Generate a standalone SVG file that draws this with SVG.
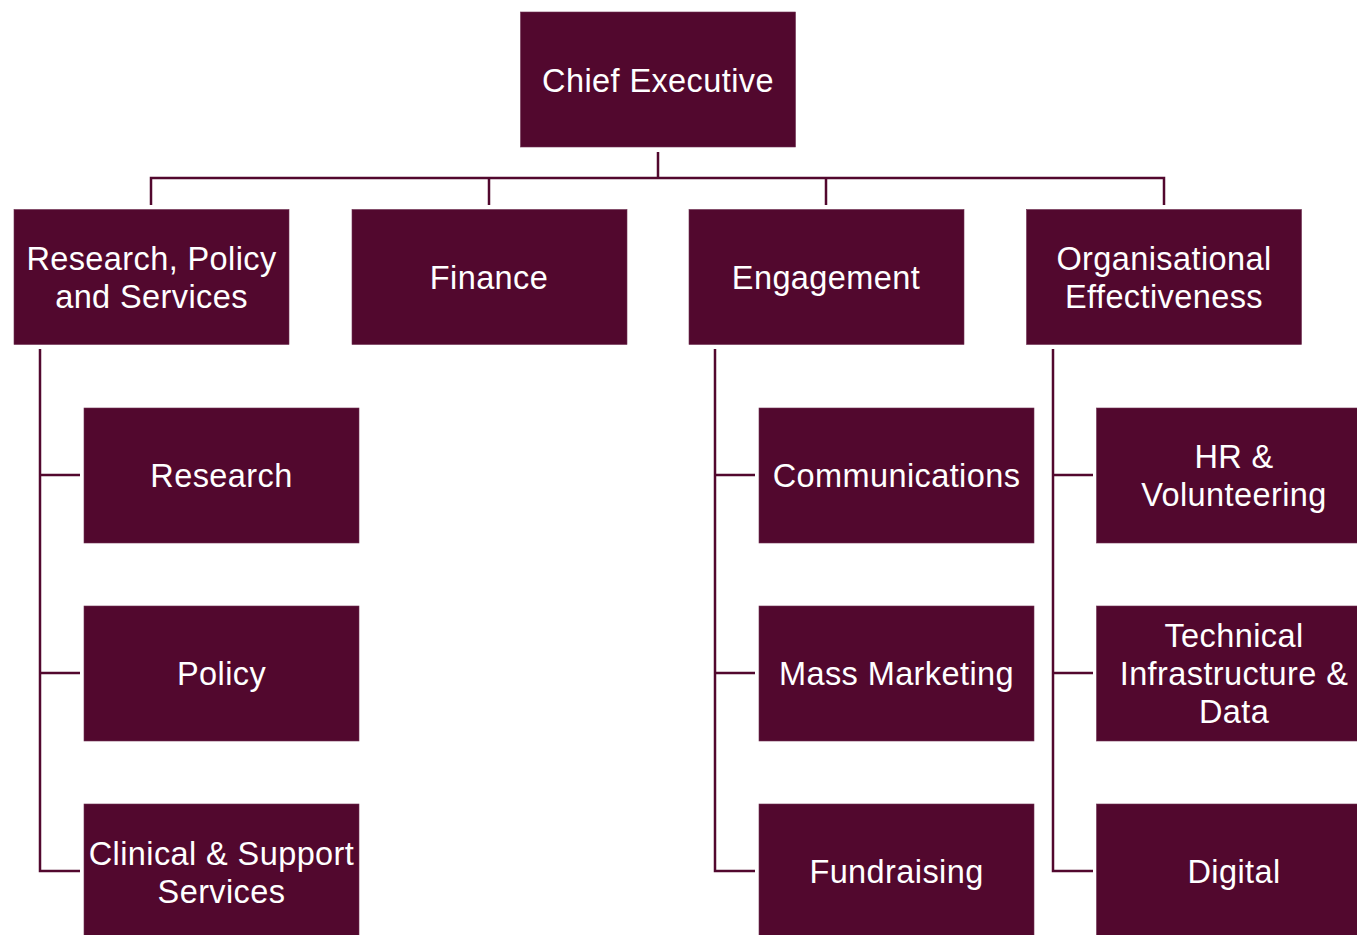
<svg xmlns="http://www.w3.org/2000/svg" width="1357" height="935" viewBox="0 0 1357 935">
<style>
.box{fill:#52082e;stroke:#6e3050;stroke-width:0.6}
.lbl{font-family:"Liberation Sans",Arial,sans-serif;font-size:32.5px;fill:#ffffff;text-anchor:middle;letter-spacing:0.4px}
.con{fill:none;stroke:#52082e;stroke-width:2.5}
</style>
<rect width="1357" height="935" fill="#ffffff"/>
<g id="connectors">
<path class="con" d="M658 152V178M151 205V178H1164V205M489 178V205M826 178V205"/>
<path class="con" d="M40 349V871H80M40 475H80M40 673H80"/>
<path class="con" d="M715 349V871H755M715 475H755M715 673H755"/>
<path class="con" d="M1053 349V871H1093M1053 475H1093M1053 673H1093"/>
</g>
<g id="chief"><rect class="box" x="520.5" y="12" width="275" height="135"/><text class="lbl" x="658" y="92">Chief Executive</text></g>
<g id="rps"><rect class="box" x="14" y="209.5" width="275" height="135"/><text class="lbl" x="151.5" y="270">Research, Policy</text><text class="lbl" x="151.5" y="308">and Services</text></g>
<g id="finance"><rect class="box" x="352" y="209.5" width="275" height="135"/><text class="lbl" x="489" y="289">Finance</text></g>
<g id="engagement"><rect class="box" x="689" y="209.5" width="275" height="135"/><text class="lbl" x="826" y="289">Engagement</text></g>
<g id="orgeff"><rect class="box" x="1026.5" y="209.5" width="275" height="135"/><text class="lbl" x="1164" y="270">Organisational</text><text class="lbl" x="1164" y="308">Effectiveness</text></g>
<g id="research"><rect class="box" x="84" y="408" width="275" height="135"/><text class="lbl" x="221.5" y="487">Research</text></g>
<g id="policy"><rect class="box" x="84" y="606" width="275" height="135"/><text class="lbl" x="221.5" y="685">Policy</text></g>
<g id="clinical"><rect class="box" x="84" y="804" width="275" height="135"/><text class="lbl" x="221.5" y="865">Clinical &amp; Support</text><text class="lbl" x="221.5" y="903">Services</text></g>
<g id="comms"><rect class="box" x="759" y="408" width="275" height="135"/><text class="lbl" x="896.5" y="487">Communications</text></g>
<g id="massmkt"><rect class="box" x="759" y="606" width="275" height="135"/><text class="lbl" x="896.5" y="685">Mass Marketing</text></g>
<g id="fundraising"><rect class="box" x="759" y="804" width="275" height="135"/><text class="lbl" x="896.5" y="883">Fundraising</text></g>
<g id="hr"><rect class="box" x="1096.5" y="408" width="275" height="135"/><text class="lbl" x="1234" y="468">HR &amp;</text><text class="lbl" x="1234" y="506">Volunteering</text></g>
<g id="tech"><rect class="box" x="1096.5" y="606" width="275" height="135"/><text class="lbl" x="1234" y="647">Technical</text><text class="lbl" x="1234" y="685">Infrastructure &amp;</text><text class="lbl" x="1234" y="723">Data</text></g>
<g id="digital"><rect class="box" x="1096.5" y="804" width="275" height="135"/><text class="lbl" x="1234" y="883">Digital</text></g>
</svg>
